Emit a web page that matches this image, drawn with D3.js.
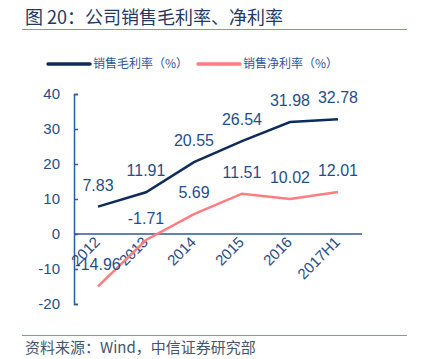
<!DOCTYPE html>
<html>
<head>
<meta charset="utf-8">
<script src="https://d3js.org/d3.v7.min.js"></script>
<style>
  body { margin: 0; background: #fff; }
  text { font-family: Arial, "Liberation Sans", "Noto Sans CJK SC", sans-serif; }
  .cjk { font-family: "Noto Sans CJK SC", sans-serif; }
</style>
</head>
<body>
<svg width="421" height="359"></svg>
<script>
var years = ["2012", "2013", "2014", "2015", "2016", "2017H1"];
var grossMargin = [7.83, 11.91, 20.55, 26.54, 31.98, 32.78];
var netMargin = [-14.96, -1.71, 5.69, 11.51, 10.02, 12.01];
var yTicks = [-20, -10, 0, 10, 20, 30, 40];
var seriesNames = ["销售毛利率（%）", "销售净利率（%）"];

var svg = d3.select("svg");
var textColor = "#1f4e89";
var axisColor = "#2a5b9a";

// title and rules
svg.append("text").attr("class", "cjk")
  .attr("x", 25).attr("y", 24)
  .attr("font-size", 18).attr("fill", "#1f3864")
  .text("图 20：公司销售毛利率、净利率");
svg.append("line").attr("x1", 22).attr("x2", 407).attr("y1", 29.5).attr("y2", 29.5)
  .attr("stroke", "#8497b0").attr("stroke-width", 1);
svg.append("line").attr("x1", 22).attr("x2", 407).attr("y1", 335.5).attr("y2", 335.5)
  .attr("stroke", "#8497b0").attr("stroke-width", 1);
svg.append("text").attr("class", "cjk")
  .attr("x", 25).attr("y", 353)
  .attr("font-size", 15).attr("fill", "#44546a")
  .text("资料来源：Wind，中信证券研究部");

var x = d3.scaleBand().domain(years).range([74, 362]);
var y = d3.scaleLinear().domain([-20, 40]).range([304, 94]);

// y axis
var yAxis = svg.append("g").attr("transform", "translate(74,0)")
  .call(d3.axisRight(y).tickValues(yTicks).tickSize(4).tickFormat(function(d) { return String(d); }));
yAxis.select(".domain").attr("stroke", axisColor).attr("stroke-width", 1.5);
yAxis.selectAll(".tick line").attr("stroke", axisColor).attr("stroke-width", 1.5);
yAxis.selectAll(".tick text")
  .attr("x", -14).attr("text-anchor", "end")
  .attr("font-size", 15).attr("fill", textColor);

// zero line
svg.append("line").attr("x1", 74).attr("x2", 362)
  .attr("y1", y(0)).attr("y2", y(0))
  .attr("stroke", axisColor).attr("stroke-width", 1.5);

// x labels
svg.append("g").selectAll("text").data(years).enter().append("text")
  .attr("transform", function(d) {
    return "translate(" + (x(d) + x.bandwidth() / 2 + 3) + "," + 243 + ") rotate(-45)";
  })
  .attr("text-anchor", "end")
  .attr("font-size", 15).attr("fill", textColor)
  .text(function(d) { return d; });

var line = d3.line()
  .x(function(d, i) { return x(years[i]) + x.bandwidth() / 2; })
  .y(function(d) { return y(d); });

svg.append("path").datum(netMargin)
  .attr("d", line).attr("fill", "none")
  .attr("stroke", "#ff7c80").attr("stroke-width", 2.5);
svg.append("path").datum(grossMargin)
  .attr("d", line).attr("fill", "none")
  .attr("stroke", "#0d2c5c").attr("stroke-width", 2.5);

function labels(data) {
  svg.append("g").selectAll("text").data(data).enter().append("text")
    .attr("x", function(d, i) { return x(years[i]) + x.bandwidth() / 2; })
    .attr("y", function(d) { return y(d) - 16; })
    .attr("text-anchor", "middle")
    .attr("font-size", 16).attr("fill", textColor)
    .text(function(d) { return d.toFixed(2); });
}
labels(grossMargin);
labels(netMargin);

// legend
var legend = [{ name: seriesNames[0], color: "#0d2c5c", x: 48 }, { name: seriesNames[1], color: "#ff7c80", x: 198 }];
var lg = svg.append("g").selectAll("g").data(legend).enter().append("g")
  .attr("transform", function(d) { return "translate(" + d.x + ",64)"; });
lg.append("line").attr("x1", 0).attr("x2", 42).attr("y1", 0).attr("y2", 0)
  .attr("stroke", function(d) { return d.color; }).attr("stroke-width", 3.5)
  .attr("stroke-linecap", "round");
lg.append("text").attr("class", "cjk")
  .attr("x", 45).attr("y", 4)
  .attr("font-size", 12).attr("fill", "#2f5597")
  .text(function(d) { return d.name; });
</script>
</body>
</html>
